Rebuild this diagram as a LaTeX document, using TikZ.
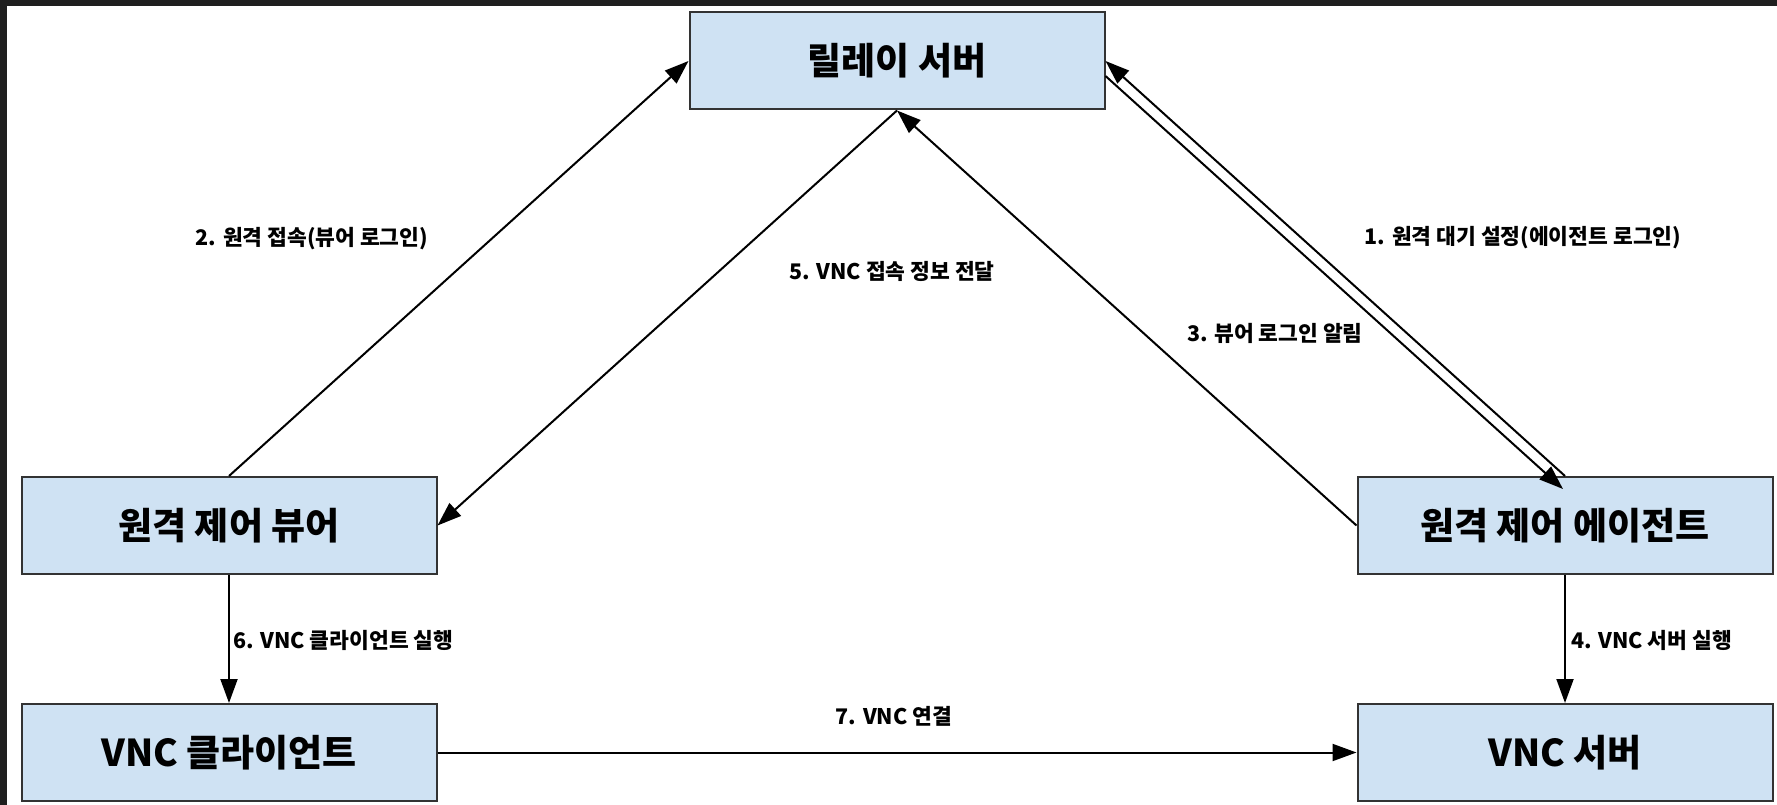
\documentclass[tikz,border=0pt]{standalone}
\usepackage{fontspec}
\setmainfont{Noto Sans CJK KR}
\usetikzlibrary{arrows.meta}
\definecolor{boxfill}{HTML}{CFE2F3}
\definecolor{boxline}{HTML}{333333}
\definecolor{frame}{HTML}{1F1F1F}
\begin{document}
\begin{tikzpicture}[x=1pt,y=-1pt,
  box/.style={draw=boxline, line width=2pt, fill=boxfill, minimum width=415pt, minimum height=97pt, inner sep=0pt, font=\fontsize{37}{42}\selectfont\bfseries},
  conn/.style={line width=2pt, -{Triangle[length=24pt,width=17pt]}},
  lbl/.style={font=\fontsize{21.5}{25}\selectfont\bfseries, inner sep=0pt}]
\useasboundingbox (0,0) rectangle (1777,805);
\fill[white] (0,0) rectangle (1777,805);
\fill[frame] (0,0) rectangle (1777,6);
\fill[frame] (0,0) rectangle (7,805);
\node[box] (relay) at (897,61) {릴레이 서버};
\node[box] (viewer) at (229,525.5) {원격 제어 뷰어};
\node[box] (agent) at (1565,525.5) {원격 제어 에이전트};
\node[box] (client) at (229,752.5) {VNC 클라이언트};
\node[box] (server) at (1565,752.5) {VNC 서버};
\draw[conn] (viewer.north) -- (relay.west);
\draw[conn] (relay.south) -- (viewer.east);
\draw[conn] (agent.west) -- (relay.south);
\draw[conn] (agent.north) -- (relay.east);
\draw[conn] ([yshift=-15pt]relay.east) -- ([xshift=-2pt,yshift=-13pt]agent.north);
\draw[conn] (viewer.south) -- (client.north);
\draw[conn] (agent.south) -- (server.north);
\draw[conn] (client.east) -- (server.west);
\node[lbl] (l1) at (1523,238) {1. 원격 대기 설정(에이전트 로그인)};
\node[lbl] (l2) at (312,239) {2. 원격 접속(뷰어 로그인)};
\node[lbl] (l3) at (1275,333) {3. 뷰어 로그인 알림};
\node[lbl, anchor=west] (l4) at (1571,640) {4. VNC 서버 실행};
\node[lbl] (l5) at (892,271) {5. VNC 접속 정보 전달};
\node[lbl, anchor=west] (l6) at (233,640) {6. VNC 클라이언트 실행};
\node[lbl] (l7) at (894,716) {7. VNC 연결};
\end{tikzpicture}
\end{document}
